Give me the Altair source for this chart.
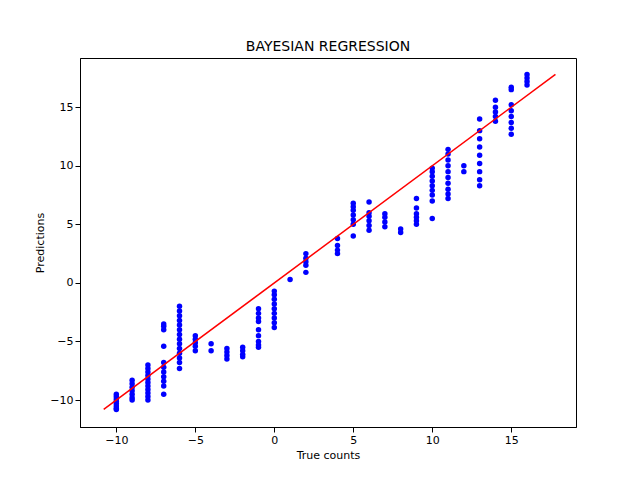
import altair as alt
import pandas as pd

# observed true counts and the predictions for each one
cluster_x = [-10, -9, -8, -7, -6, -5, -4, -3, -2, -1, 0, 1, 2, 4, 5, 6, 7, 8, 9, 10, 11, 12, 13, 14, 15, 16]
cluster_y = [
    [-9.5, -9.7, -9.9, -10.1, -10.3, -10.5, -10.7, -10.8],
    [-8.3, -8.6, -8.9, -9.2, -9.5, -9.8, -10.0],
    [-7.0, -7.3, -7.6, -7.9, -8.2, -8.5, -8.8, -9.1, -9.4, -9.7, -10.0],
    [-3.5, -3.7, -4.0, -5.4, -6.8, -7.2, -7.6, -8.0, -8.4, -8.8, -9.5],
    [-2.0, -2.4, -2.8, -3.2, -3.6, -4.0, -4.4, -4.8, -5.2, -5.6, -6.0, -6.4, -6.8, -7.3],
    [-4.5, -4.8, -5.1, -5.4, -5.8],
    [-5.2, -5.8],
    [-5.6, -5.9, -6.2, -6.5],
    [-5.5, -5.8, -6.1, -6.3],
    [-2.2, -2.6, -3.0, -3.3, -4.0, -4.5, -5.0, -5.3, -5.5],
    [-0.7, -1.0, -1.4, -1.8, -2.2, -2.6, -3.0, -3.4, -3.8],
    [0.3],
    [0.9, 1.5, 1.8, 2.1, 2.5],
    [2.5, 2.8, 3.2, 3.8],
    [4.0, 5.0, 5.4, 5.8, 6.2, 6.5, 6.8],
    [4.5, 4.9, 5.3, 5.7, 6.0, 6.9],
    [4.8, 5.2, 5.6, 5.9],
    [4.3, 4.6],
    [5.0, 5.3, 5.6, 5.9, 6.4, 7.2],
    [5.5, 7.0, 7.5, 7.9, 8.3, 8.7, 9.1, 9.5, 9.8],
    [7.2, 7.6, 8.0, 8.5, 9.0, 9.5, 10.0, 10.5, 11.0, 11.4],
    [9.5, 10.0],
    [8.3, 8.8, 9.5, 10.2, 10.9, 11.6, 12.3, 13.0, 14.0],
    [13.8, 14.2, 14.6, 15.0, 15.6],
    [12.7, 13.2, 13.7, 14.2, 14.7, 15.2, 16.5, 16.7],
    [16.9, 17.2, 17.5, 17.8],
]
fit_x = [-10.8, 17.8]
fit_y = [-10.8, 17.8]

points = pd.DataFrame(
    [(x, y) for x, ys in zip(cluster_x, cluster_y) for y in ys],
    columns=['truth', 'pred'],
)
fit = pd.DataFrame({'truth': fit_x, 'pred': fit_y})

xs = alt.Scale(domain=[-12.3, 19.1], nice=False, zero=False)
ys = alt.Scale(domain=[-12.3, 19.2], nice=False, zero=False)

dots = alt.Chart(points).mark_circle(size=30, color='#0000ff', opacity=1).encode(
    x=alt.X('truth:Q', scale=xs, title='True counts',
        axis=alt.Axis(values=[-10, -5, 0, 5, 10, 15])),
    y=alt.Y('pred:Q', scale=ys, title='Predictions',
        axis=alt.Axis(values=[-10, -5, 0, 5, 10, 15])),
)

line = alt.Chart(fit).mark_line(color='#ff0000', strokeWidth=1.5).encode(
    x=alt.X('truth:Q', scale=xs),
    y=alt.Y('pred:Q', scale=ys),
)

chart = (dots + line).properties(
    width=496, height=369,
    padding={'left': 26, 'top': 32, 'right': 5, 'bottom': 5},
    title=alt.Title('BAYESIAN REGRESSION', fontSize=14, fontWeight='normal'),
).configure(font='DejaVu Sans').configure_axis(
    grid=False, domainColor='black', tickColor='black', labelColor='black',
    titleColor='black', labelFontSize=11, titleFontSize=11, titleFontWeight='normal',
).configure_view(stroke='black', strokeWidth=1)

chart.save("out.html", embed_options={"renderer": "svg", "actions": False})
